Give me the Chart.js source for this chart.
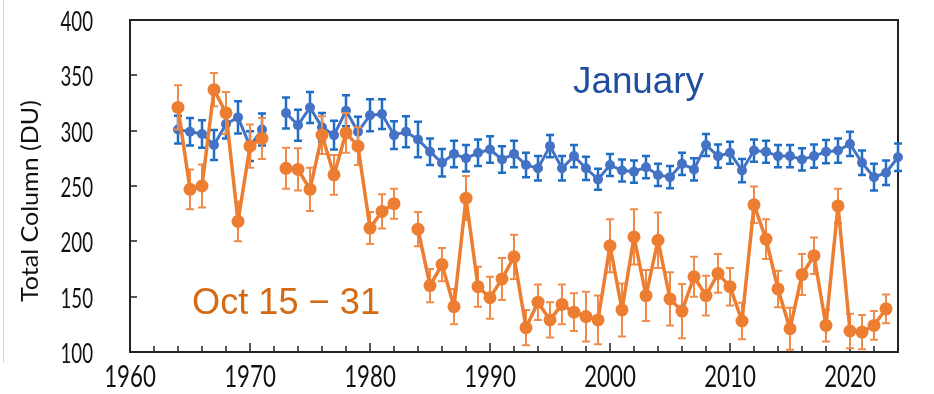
<!DOCTYPE html>
<html>
<head>
<meta charset="utf-8">
<script src="https://cdn.jsdelivr.net/npm/chart.js@4.4.1/dist/chart.umd.min.js"></script>
<style>
  html, body { margin: 0; padding: 0; background: #fff; }
  #wrap { position: relative; width: 934px; height: 394px; }
  #edge { position: absolute; left: 3px; top: 0; width: 1px; height: 363px; background: #d4d4d4; }
</style>
</head>
<body>
<div id="wrap">
  <canvas id="ozoneChart" width="934" height="394"></canvas>
  <div id="edge"></div>
</div>
<script>
// years of the record (one entry per point)
const years = [
  1964, 1965, 1966, 1967, 1968, 1969, 1970, 1971, 1972, 1973,
  1974, 1975, 1976, 1977, 1978, 1979, 1980, 1981, 1982, 1983,
  1984, 1985, 1986, 1987, 1988, 1989, 1990, 1991, 1992, 1993,
  1994, 1995, 1996, 1997, 1998, 1999, 2000, 2001, 2002, 2003,
  2004, 2005, 2006, 2007, 2008, 2009, 2010, 2011, 2012, 2013,
  2014, 2015, 2016, 2017, 2018, 2019, 2020, 2021, 2022, 2023,
  2024
];

// January mean total column (DU) and its error
const januaryValues = [
  301, 299, 297, 287, 306, 312, 286, 301, null, 316,
  305, 321, 303, 296, 318, 299, 314, 315, 296, 299,
  292, 281, 271, 279, 275, 280, 283, 274, 279, 269,
  266, 286, 266, 277, 266, 256, 269, 264, 263, 267,
  260, 258, 270, 265, 287, 277, 280, 264, 282, 281,
  277, 277, 274, 277, 281, 282, 288, 271, 258, 262,
  276
];
const januaryErrors = [
  12.5, 12.5, 12.5, 13.5, 13, 14.5, 13.5, 14.5, null, 14,
  14, 14, 13, 13, 14, 13.5, 14.5, 13.5, 12.5, 14,
  16, 12, 12.5, 12, 12, 12, 12, 12, 12, 11,
  11, 10, 11, 10, 10.5, 9.5, 10, 10, 10, 10,
  10, 10, 10, 10, 10, 10.5, 10, 10.5, 10, 10,
  10, 10, 10, 10.5, 10.5, 11, 11, 11, 12, 11,
  12.5
];

// Oct 15 - 31 mean total column (DU) and its error
const octoberValues = [
  321, 247, 250, 337, 316, 218, 286, 293, null, 266,
  265, 247, 296, 260, 298, 286, 212, 227, 234, null,
  211, 160, 179, 141, 239, 159, 149, 166, 186, 122,
  145, 129, 143, 136, 132, 129, 196, 138, 204, 151,
  201, 148, 137, 168, 151, 171, 159, 128, 233, 202,
  157, 121, 170, 187, 124, 232, 119, 118, 124, 139,
  null
];
const octoberErrors = [
  20, 18, 19.5, 15, 19, 18, 19.5, 18.5, null, 18.5,
  19, 19.5, 17, 18, 18, 17, 14.5, 15.5, 13.5, null,
  15.5, 15, 15, 16, 20, 18, 19, 19, 20, 16,
  16, 16, 18, 17, 22.5, 22, 24, 24, 25, 23,
  25, 24, 24.5, 18, 18, 17.5, 17, 16.5, 16.5, 18,
  16.5, 19, 18.5, 16.5, 14.5, 15.5, 15.5, 15.5, 13, 13,
  null
];

const yTicks = [100, 150, 200, 250, 300, 350, 400];
const xLabels = [1960, 1970, 1980, 1990, 2000, 2010, 2020];

const LATO = "Lato, 'Open Sans', sans-serif";
const ARIAL = "'Liberation Sans', Arial, sans-serif";
const INK = '#111';

const errorSets = {
  0: { errs: octoberErrors, color: '#f08c4a', width: 2, cap: 4 },
  1: { errs: januaryErrors, color: '#1f6ec4', width: 2.5, cap: 4 }
};

const toPoints = vals => years.map((yr, i) => ({ x: yr, y: vals[i] }));

// text squeezed/stretched to a target width (the original uses a narrow face)
function fitText(ctx, text, x, y, font, width, align, color) {
  ctx.save();
  ctx.font = font;
  const w = ctx.measureText(text).width;
  ctx.translate(x, y);
  ctx.scale(width / w, 1);
  ctx.textAlign = align;
  ctx.textBaseline = 'alphabetic';
  ctx.fillStyle = color;
  ctx.fillText(text, 0, 0);
  ctx.restore();
}

// error bars are drawn just under their own series
const errorBars = {
  id: 'errorBars',
  beforeDatasetDraw(chart, args) {
    const set = errorSets[args.index];
    if (!set) return;
    const { ctx, scales: { x, y } } = chart;
    const data = chart.data.datasets[args.index].data;
    ctx.save();
    ctx.strokeStyle = set.color;
    ctx.lineWidth = set.width;
    ctx.beginPath();
    data.forEach((p, i) => {
      const e = set.errs[i];
      if (p.y == null || e == null) return;
      const px = x.getPixelForValue(p.x);
      const top = y.getPixelForValue(p.y + e);
      const bot = y.getPixelForValue(p.y - e);
      ctx.moveTo(px, top); ctx.lineTo(px, bot);
      ctx.moveTo(px - set.cap, top); ctx.lineTo(px + set.cap, top);
      ctx.moveTo(px - set.cap, bot); ctx.lineTo(px + set.cap, bot);
    });
    ctx.stroke();
    ctx.restore();
  }
};

// plot frame, inward ticks, tick labels and texts
const frame = {
  id: 'frame',
  beforeDatasetsDraw(chart) {
    const { ctx, scales: { x, y } } = chart;
    const L = Math.round(x.left), R = Math.round(x.right);
    const T = Math.round(y.top), B = Math.round(y.bottom);
    ctx.save();
    ctx.fillStyle = '#222';
    ctx.fillRect(L - 1, T - 1, R - L + 2, 2);
    ctx.fillRect(L - 1, B - 1, R - L + 2, 2);
    ctx.fillRect(L - 1, T - 1, 2, B - T + 2);
    ctx.fillRect(R - 1, T - 1, 2, B - T + 2);
    for (let yr = 1962; yr < 2024; yr += 2) {
      const px = Math.round(x.getPixelForValue(yr));
      const len = yr % 10 === 0 ? 9 : 6;
      ctx.fillRect(px - 0.75, B - len, 1.5, len);
    }
    yTicks.forEach(v => {
      const py = Math.round(y.getPixelForValue(v));
      ctx.fillRect(L, py - 0.75, 7, 1.5);
    });
    ctx.restore();

    xLabels.forEach(v => {
      fitText(ctx, String(v), x.getPixelForValue(v), B + 35, '30px ' + LATO, 51.6, 'center', INK);
    });
    yTicks.forEach(v => {
      fitText(ctx, String(v), 93, y.getPixelForValue(v) + 11, '26px ' + LATO, 32.5, 'right', INK);
    });
  },
  afterDraw(chart) {
    const { ctx } = chart;
    ctx.save();
    ctx.translate(37.5, 201);
    ctx.rotate(-Math.PI / 2);
    fitText(ctx, 'Total Column (DU)', 0, 0, '24px ' + LATO, 202, 'center', INK);
    ctx.restore();

    fitText(ctx, 'January', 573, 93, '37px ' + ARIAL, 131, 'left', '#1f4ea0');
    fitText(ctx, 'Oct 15 \u2212 31', 192, 314, '37px ' + ARIAL, 188, 'left', '#d46a14');
  }
};

new Chart(document.getElementById('ozoneChart'), {
  type: 'line',
  data: {
    datasets: [
      {
        label: 'Oct 15 - 31',
        data: toPoints(octoberValues),
        borderColor: '#ed7d31',
        backgroundColor: '#ed7d31',
        borderWidth: 3.5,
        pointRadius: 6.5,
        pointBorderWidth: 0,
        pointBackgroundColor: '#ed7d31',
        spanGaps: false,
        tension: 0,
        clip: false
      },
      {
        label: 'January',
        data: toPoints(januaryValues),
        borderColor: '#4472c4',
        backgroundColor: '#4472c4',
        borderWidth: 3,
        pointRadius: 5,
        pointBorderWidth: 0,
        pointBackgroundColor: '#4472c4',
        spanGaps: false,
        tension: 0,
        clip: false
      }
    ]
  },
  options: {
    responsive: false,
    animation: false,
    events: [],
    layout: { padding: { top: 20, right: 36, bottom: 0, left: 0 } },
    plugins: {
      legend: { display: false },
      tooltip: { enabled: false }
    },
    scales: {
      x: {
        type: 'linear',
        min: 1960,
        max: 2024,
        grid: { display: false },
        border: { display: false },
        ticks: { display: false },
        afterFit(scale) { scale.height = 42; }
      },
      y: {
        min: 100,
        max: 400,
        grid: { display: false },
        border: { display: false },
        ticks: { display: false },
        afterFit(scale) { scale.width = 130; }
      }
    }
  },
  plugins: [errorBars, frame]
});
</script>
</body>
</html>
